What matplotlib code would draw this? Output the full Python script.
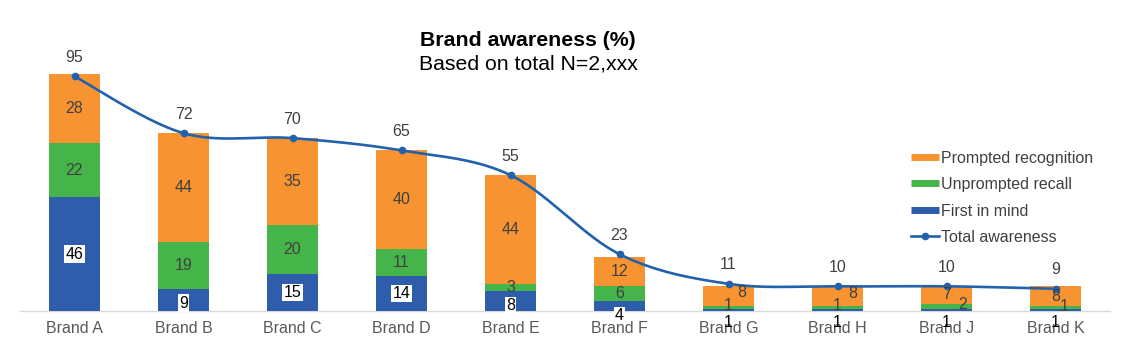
import numpy as np
import matplotlib
matplotlib.use("Agg")
import matplotlib.pyplot as plt
from matplotlib.lines import Line2D

plt.rcParams['font.family'] = ['Liberation Sans', 'DejaVu Sans']

brands = ["Brand A", "Brand B", "Brand C", "Brand D", "Brand E",
          "Brand F", "Brand G", "Brand H", "Brand J", "Brand K"]
first_in_mind = [46, 9, 15, 14, 8, 4, 1, 1, 1, 1]
unprompted_recall = [22, 19, 20, 11, 3, 6, 1, 1, 2, 1]
prompted_recognition = [28, 44, 35, 40, 44, 12, 8, 8, 7, 8]
total_awareness = [95, 72, 70, 65, 55, 23, 11, 10, 10, 9]

C_BLUE = "#2E5EAB"
C_GREEN = "#45B549"
C_ORANGE = "#F79431"
C_LINE = "#2262AC"
C_TEXT = "#404040"
C_TICK = "#595959"
FS = 11.5

W, H, DPI = 1142, 362, 100
fig = plt.figure(figsize=(W / DPI, H / DPI), dpi=DPI)
ax = fig.add_axes([20 / W, 1 - 311 / H, 1090 / W, 247 / H])

x = np.arange(len(brands))
fim = np.array(first_in_mind, float)
unp = np.array(unprompted_recall, float)
pro = np.array(prompted_recognition, float)
tot = np.array(total_awareness, float)

bw = 0.47
ax.bar(x, fim, bw, color=C_BLUE, zorder=2)
ax.bar(x, unp, bw, bottom=fim, color=C_GREEN, zorder=2)
ax.bar(x, pro, bw, bottom=fim + unp, color=C_ORANGE, zorder=2)

# Excel-like smoothed line (cubic Bezier, tension 1/6)
pts = np.column_stack([x, tot])
ext = np.vstack([pts[0], pts, pts[-1]])
curve = []
t = np.linspace(0, 1, 40)[:, None]
for i in range(len(pts) - 1):
    p0 = ext[i + 1]
    p3 = ext[i + 2]
    c1 = p0 + (ext[i + 2] - ext[i]) / 6.0
    c2 = p3 - (ext[i + 3] - ext[i + 1]) / 6.0
    seg = (1 - t) ** 3 * p0 + 3 * (1 - t) ** 2 * t * c1 + 3 * (1 - t) * t ** 2 * c2 + t ** 3 * p3
    curve.append(seg)
curve = np.vstack(curve)
ax.plot(curve[:, 0], curve[:, 1], color=C_LINE, lw=1.9, zorder=4, solid_capstyle='round')
ax.plot(x, tot, 'o', color=C_LINE, ms=4.5, zorder=5)

# label nudges (pixels) for crowded small segments
nudge = {("unp", 8): (16, 0), ("unp", 9): (9, -1),
         ("pro", 6): (13, 4), ("pro", 7): (15, 3)}

for i in range(len(x)):
    yb = min(fim[i] / 2, fim[i] - 5.8)
    box = dict(boxstyle='square,pad=0.08', fc='white', ec='none') if yb > -3 else None
    ax.annotate(f"{first_in_mind[i]}", (x[i], yb), ha='center', va='center',
                fontsize=FS, color='black', zorder=6, annotation_clip=False,
                bbox=box)
    dx, dy = nudge.get(("unp", i), (0, 0))
    ax.annotate(f"{unprompted_recall[i]}", (x[i], fim[i] + unp[i] / 2 + (0.6 if unp[i] < 3 else 0)),
                xytext=(dx, dy), textcoords='offset pixels', annotation_clip=False,
                ha='center', va='center', fontsize=FS, color=C_TEXT, zorder=6)
    dx, dy = nudge.get(("pro", i), (0, 0))
    ax.annotate(f"{prompted_recognition[i]}", (x[i], fim[i] + unp[i] + pro[i] / 2),
                xytext=(dx, dy), textcoords='offset pixels', annotation_clip=False,
                ha='center', va='center', fontsize=FS, color=C_TEXT, zorder=6)
    ax.annotate(f"{total_awareness[i]}", (x[i], tot[i]), xytext=(0, 19),
                textcoords='offset pixels', ha='center', va='center',
                annotation_clip=False, fontsize=FS, color=C_TEXT, zorder=6)

ax.set_xlim(-0.5, len(x) - 0.5)
ax.set_ylim(0, 100)
ax.set_xticks(x)
ax.set_xticklabels(brands, fontsize=FS, color=C_TICK)
ax.tick_params(axis='x', length=0, pad=7)
ax.set_yticks([])
for s in ['top', 'right', 'left']:
    ax.spines[s].set_visible(False)
ax.spines['bottom'].set_color('#D9D9D9')
ax.spines['bottom'].set_linewidth(1.0)
ax.spines['bottom'].set_zorder(1)

handles = [Line2D([], [], color=C_ORANGE, lw=5, solid_capstyle='butt'),
           Line2D([], [], color=C_GREEN, lw=5, solid_capstyle='butt'),
           Line2D([], [], color=C_BLUE, lw=5, solid_capstyle='butt'),
           Line2D([], [], color=C_LINE, lw=1.9, marker='o', ms=4.5)]
labels = ["Prompted recognition", "Unprompted recall", "First in mind", "Total awareness"]
fig.legend(handles, labels, loc='upper left', bbox_to_anchor=(911 / W, 1 - 150.5 / H),
           frameon=False, fontsize=FS, handlelength=1.75, handletextpad=0.15,
           labelspacing=0.72, borderpad=0, borderaxespad=0, labelcolor=C_TEXT)

fig.text(528 / W, 1 - 40 / H, "Brand awareness (%)", ha='center', va='center',
         fontsize=15.3, fontweight='bold', color='black')
fig.text(528 / W, 1 - 64 / H, "Based on total N=2,xxx", ha='center', va='center',
         fontsize=15.3, color='black')

fig.savefig("out.png", dpi=DPI)
